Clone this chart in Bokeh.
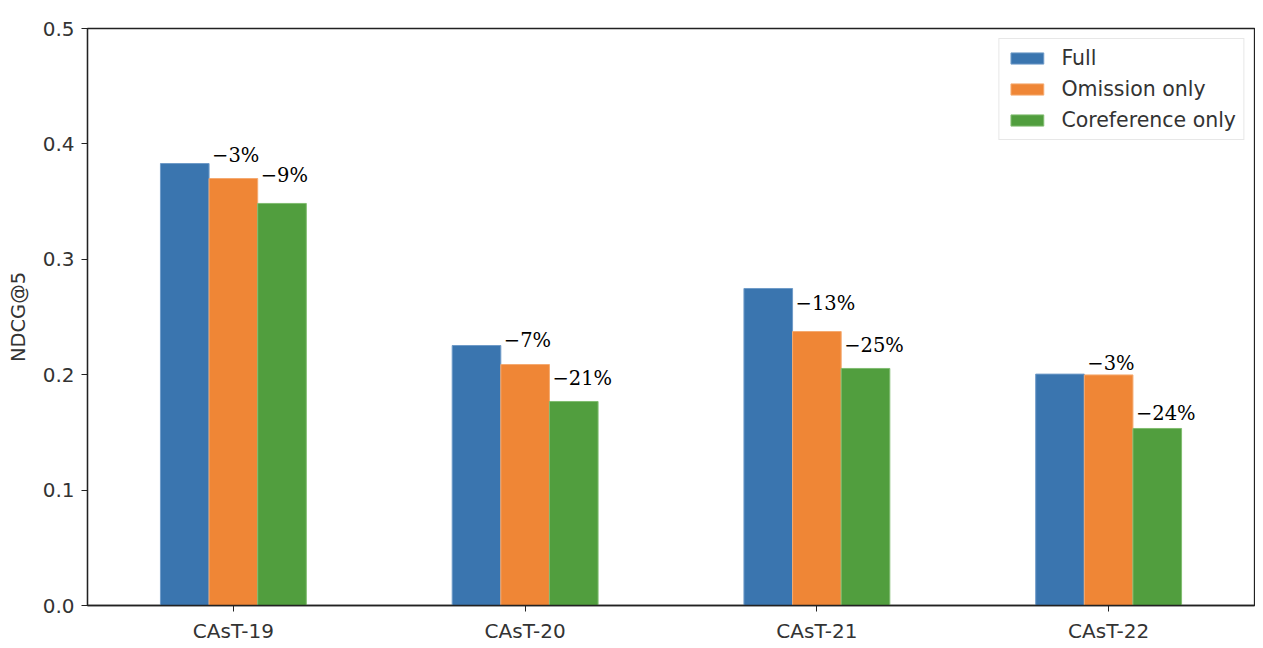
from bokeh.plotting import figure
from bokeh.models import FactorRange, Range1d, ColumnDataSource, FixedTicker, PrintfTickFormatter
from bokeh.transform import dodge
from bokeh.core.properties import value
from bokeh.embed import file_html
from bokeh.resources import INLINE

categories = ["CAsT-19", "CAsT-20", "CAsT-21", "CAsT-22"]
series_names = ["Full", "Omission only", "Coreference only"]
full = [0.383, 0.2253, 0.2747, 0.2005]
omission = [0.370, 0.2088, 0.2374, 0.1998]
coreference = [0.3484, 0.1768, 0.2054, 0.1534]
omission_labels = ["\u22123%", "\u22127%", "\u221213%", "\u22123%"]
coreference_labels = ["\u22129%", "\u221221%", "\u221225%", "\u221224%"]
omission_label_y = [0.390, 0.2296, 0.2617, 0.2097]
coreference_label_y = [0.3726, 0.1967, 0.2253, 0.1664]
y_ticks = [0.0, 0.1, 0.2, 0.3, 0.4, 0.5]

colors = ["#3a75af", "#ef8636", "#519e3e"]
edge_colors = ["#6f9bc8", "#f5aa70", "#80bd70"]

src = ColumnDataSource(dict(cat=categories, full=full, omission=omission, coref=coreference))
lab_o = ColumnDataSource(dict(cat=categories, y=omission_label_y, t=omission_labels))
lab_c = ColumnDataSource(dict(cat=categories, y=coreference_label_y, t=coreference_labels))

p = figure(width=1255, height=645, output_backend="svg", toolbar_location=None,
           x_range=FactorRange(factors=categories, range_padding=0),
           y_range=Range1d(0, 0.5),
           min_border_left=87, min_border_right=1, min_border_top=28, min_border_bottom=40)

w = 1.0 / 6
for i, (col, name) in enumerate(zip(["full", "omission", "coref"], series_names)):
    p.vbar(x=dodge("cat", (i - 1) * w, range=p.x_range), top=col, width=w, source=src,
           fill_color=colors[i], line_color=edge_colors[i], line_width=1, legend_label=name)

for off, s in [(-w / 2, lab_o), (w / 2, lab_c)]:
    p.text(x=dodge("cat", off, range=p.x_range), y="y", text="t", source=s,
           text_font=value("DejaVu Serif"), text_font_size=value("19.5px"),
           text_align="left", text_baseline="middle", x_offset=3, text_color="black")

p.xgrid.visible = False
p.ygrid.visible = False
p.outline_line_color = "#222222"
p.outline_line_width = 1.3

for ax in [p.xaxis[0], p.yaxis[0]]:
    ax.axis_line_color = "#222222"
    ax.axis_line_width = 1.3
    ax.major_tick_line_color = "#222222"
    ax.major_tick_out = 6
    ax.major_tick_in = 0
    ax.minor_tick_line_color = None
    ax.major_label_text_font = "DejaVu Sans"
    ax.major_label_text_font_size = "20px"
    ax.major_label_text_color = "#333333"
    ax.major_label_standoff = 7

yax = p.yaxis[0]
yax.ticker = FixedTicker(ticks=y_ticks)
yax.formatter = PrintfTickFormatter(format="%.1f")
yax.axis_label = "NDCG@5"
yax.axis_label_text_font = "DejaVu Sans"
yax.axis_label_text_font_size = "19.5px"
yax.axis_label_text_font_style = "normal"
yax.axis_label_text_color = "#333333"
yax.axis_label_standoff = 10

lg = p.legend[0]
lg.location = "top_right"
lg.margin = 10
lg.padding = 7
lg.spacing = 7
lg.glyph_width = 41
lg.glyph_height = 14
lg.label_height = 23
lg.label_standoff = 14
lg.label_text_font = "DejaVu Sans"
lg.label_text_font_size = "20.5px"
lg.label_text_color = "#333333"
lg.border_line_color = "#d0d0d0"
lg.border_line_width = 1
lg.background_fill_alpha = 0.9

open("out.html", "w").write(file_html(p, INLINE))
